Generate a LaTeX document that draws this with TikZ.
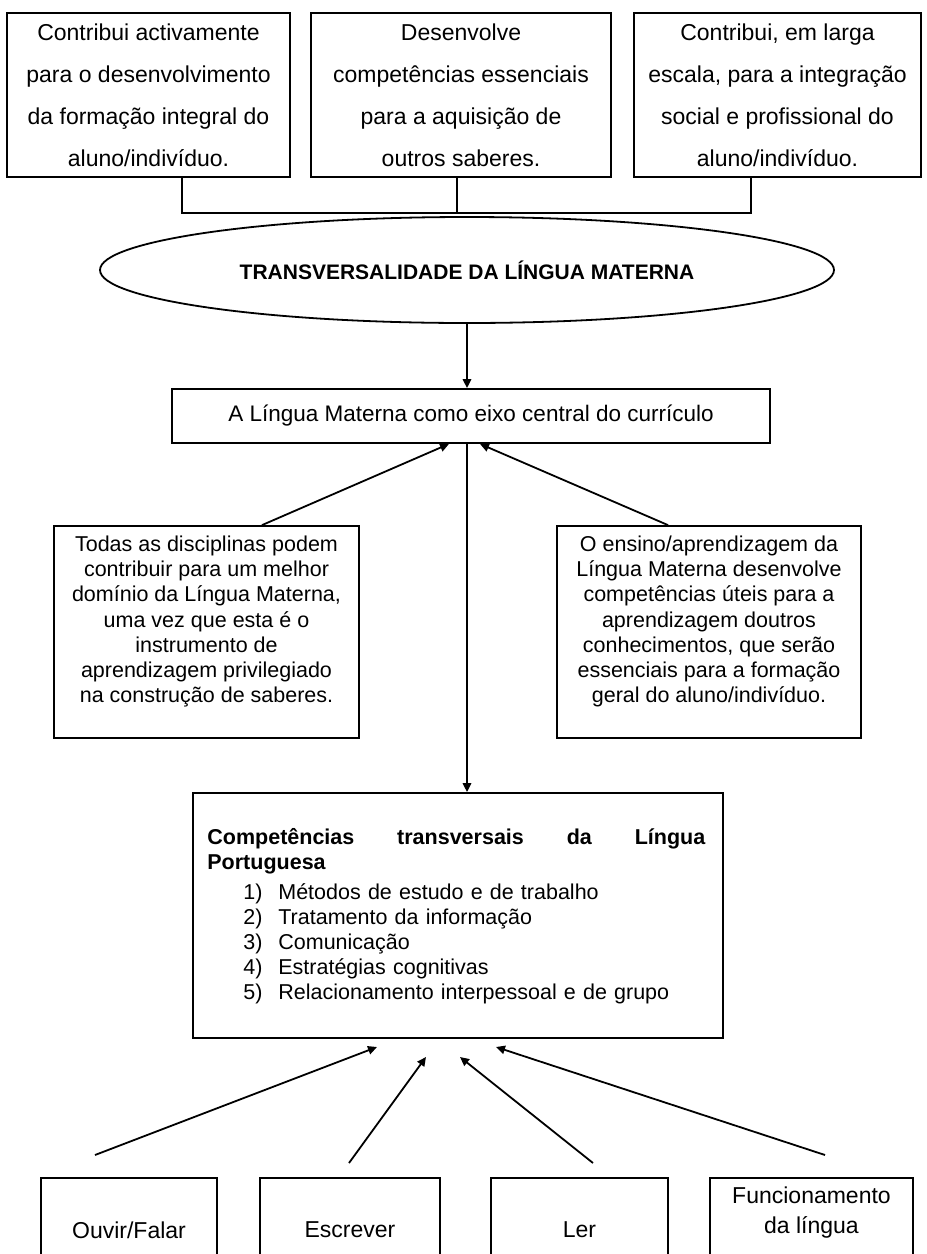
\documentclass[tikz,border=0pt]{standalone}
\usepackage{fontspec}
\setmainfont{Liberation Sans}
\usetikzlibrary{arrows.meta,shapes.geometric}
\begin{document}
\begin{tikzpicture}[x=0.5pt,y=-0.5pt,
  box/.style={draw,line width=0.9pt,rectangle,inner sep=0pt,align=center},
  topbox/.style={box,minimum height=82pt,font=\fontsize{11.5pt}{21pt}\selectfont},
  sidebox/.style={box,minimum width=152.5pt,minimum height=106pt},
  sidetxt/.style={inner sep=0pt,align=center,font=\fontsize{10.75pt}{12.6pt}\selectfont},
  botbox/.style={box,minimum height=52pt,font=\fontsize{11.5pt}{15pt}\selectfont},
  conn/.style={line width=0.9pt},
  arr/.style={line width=0.9pt,-{Triangle[length=4.5pt,width=4.2pt]}}]
\fill[white] (0,0) rectangle (927,1254);
\useasboundingbox (0,0) rectangle (927,1254);

% top boxes
\node[topbox,minimum width=141.5pt] (b1) at (148.5,95) {Contribui activamente\\para o desenvolvimento\\da formação integral do\\aluno/indivíduo.};
\node[topbox,minimum width=150pt] (b2) at (461,95) {Desenvolve\\competências essenciais\\para a aquisição de\\outros saberes.};
\node[topbox,minimum width=143.5pt] (b3) at (777.5,95) {Contribui, em larga\\escala, para a integração\\social e profissional do\\aluno/indivíduo.};

\coordinate (j1) at (182,213);
\coordinate (j2) at (457,213);
\coordinate (j3) at (751,213);
\draw[conn] (b1.south -| j1) -- (j1) -- (j3) -- (b3.south -| j3);
\draw[conn] (b2.south -| j2) -- (j2);

% ellipse
\node[draw,ellipse,line width=0.9pt,inner sep=0pt,minimum width=367pt,minimum height=53pt,
  font=\bfseries\fontsize{10.5pt}{12pt}\selectfont] (e) at (467,270) {TRANSVERSALIDADE DA LÍNGUA MATERNA};

% central box
\node[box,minimum width=299pt,minimum height=27pt,font=\fontsize{11.25pt}{13pt}\selectfont] (m) at (471,416) {A Língua Materna como eixo central do currículo};
\draw[arr] (e.south) -- (e.south |- m.north);

% side boxes
\node[sidebox] (L) at (206.5,632) {};
\node[sidetxt] (Lt) at (206.5,621.5) {Todas as disciplinas podem\\contribuir para um melhor\\domínio da Língua Materna,\\uma vez que esta é o\\instrumento de\\aprendizagem privilegiado\\na construção de saberes.};
\node[sidebox,minimum width=152pt] (R) at (709,632) {};
\node[sidetxt] (Rt) at (709,621.5) {O ensino/aprendizagem da\\Língua Materna desenvolve\\competências úteis para a\\aprendizagem doutros\\conhecimentos, que serão\\essenciais para a formação\\geral do aluno/indivíduo.};

\coordinate (xl) at (262,0);
\coordinate (xlt) at (449,0);
\coordinate (xr) at (668,0);
\coordinate (xrt) at (480,0);
\coordinate (xc) at (467,0);
\draw[arr] (L.north -| xl) -- (m.south -| xlt);
\draw[arr] (R.north -| xr) -- (m.south -| xrt);

% competences box
\node[box,minimum width=265pt,minimum height=122.5pt] (C) at (458,915.5) {};
\node[anchor=north west,inner sep=0pt,text width=249pt,align=left,
  font=\fontsize{10.75pt}{12.5pt}\selectfont] (Ct) at (207,828)
  {\textbf{Competências\hfill transversais\hfill da\hfill Língua}\\
   \textbf{Portuguesa}\\[2.5pt]
   \hspace*{18pt}\makebox[17.5pt][l]{1)}Métodos de estudo e de trabalho\\
   \hspace*{18pt}\makebox[17.5pt][l]{2)}Tratamento da informação\\
   \hspace*{18pt}\makebox[17.5pt][l]{3)}Comunicação\\
   \hspace*{18pt}\makebox[17.5pt][l]{4)}Estratégias cognitivas\\
   \hspace*{18pt}\makebox[17.5pt][l]{5)}Relacionamento interpessoal e de grupo};
\draw[arr] (m.south -| xc) -- (C.north -| xc);

% bottom boxes
\node[botbox,minimum width=88pt] (B1) at (129,1230) {Ouvir/Falar};
\node[botbox,minimum width=90pt] (B2) at (350,1230) {Escrever};
\node[botbox,minimum width=88.5pt] (B3) at (579.5,1230) {Ler};
\node[botbox,minimum width=101.5pt] (B4) at (811.5,1230) {Funcionamento\\da língua\\\strut};

% bottom arrows (free ends)
\coordinate (p1s) at (95,1155);  \coordinate (p1e) at (377,1047);
\coordinate (p2s) at (349,1163); \coordinate (p2e) at (426,1057);
\coordinate (p3s) at (593,1163); \coordinate (p3e) at (460,1057);
\coordinate (p4s) at (825,1155); \coordinate (p4e) at (496,1047);
\draw[arr] (p1s) -- (p1e);
\draw[arr] (p2s) -- (p2e);
\draw[arr] (p3s) -- (p3e);
\draw[arr] (p4s) -- (p4e);
\end{tikzpicture}
\end{document}
